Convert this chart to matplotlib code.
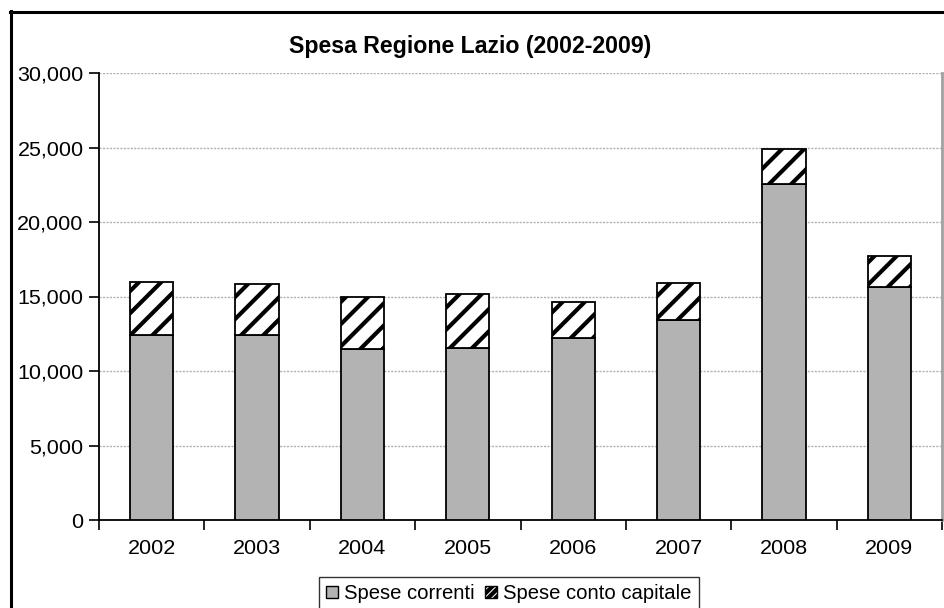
import matplotlib
matplotlib.use("Agg")
import matplotlib.pyplot as plt
from matplotlib.lines import Line2D
from matplotlib.patches import Patch
from matplotlib.ticker import FuncFormatter, MultipleLocator
import numpy as np

DPI = 400 / 3
K = 100 / DPI  # keep pixel sizes as designed at 100 dpi

plt.rcParams['font.family'] = ['Liberation Sans', 'DejaVu Sans']
plt.rcParams['hatch.linewidth'] = 3.0 * K

anni = ['2002', '2003', '2004', '2005', '2006', '2007', '2008', '2009']
spese_correnti = [12400, 12400, 11450, 11550, 12200, 13400, 22550, 15650]
spese_capitale = [3550, 3450, 3500, 3600, 2450, 2500, 2350, 2050]
titolo = 'Spesa Regione Lazio (2002-2009)'
etichette = ['Spese correnti', 'Spese conto capitale']

W, H = 944, 608
fig = plt.figure(figsize=(W / DPI, H / DPI), dpi=DPI)
ax = fig.add_axes([99 / W, 1 - 520 / H, 843 / W, 447 / H])

x = np.arange(len(anni))
bw = 0.41
ax.bar(x, spese_correnti, width=bw, color='#b3b3b3', edgecolor='black', linewidth=1.3 * K, zorder=3)
ax.bar(x, spese_capitale, width=bw, bottom=spese_correnti, color='white', edgecolor='black',
       hatch='//', linewidth=1.3 * K, zorder=3)

ax.set_xlim(-0.5, len(anni) - 0.5)
ax.set_ylim(0, 30000)
ax.yaxis.set_major_locator(MultipleLocator(5000))
ax.yaxis.set_major_formatter(FuncFormatter(lambda v, p: f'{int(v):,}'))
ax.grid(axis='y', color='#b0b0b0', linestyle=(0, (1.5, 1)), linewidth=1.0 * K, zorder=0)

ax.set_xticks(x)
ax.set_xticklabels(anni)
ax.set_xticks(np.arange(-0.5, len(anni)), minor=True)
ax.tick_params(axis='x', which='major', length=0, pad=14 * K, labelsize=15.5 * K)
ax.tick_params(axis='x', which='minor', length=7 * K, width=1.2 * K, direction='out', color='black')
ax.tick_params(axis='y', which='major', length=7 * K, width=1.2 * K, direction='out', pad=4 * K,
               labelsize=15.5 * K)

ax.spines['top'].set_visible(False)
ax.spines['right'].set_color('#a0a0a0')
ax.spines['right'].set_linewidth(2 * K)
ax.spines['left'].set_linewidth(1.3 * K)
ax.spines['bottom'].set_linewidth(1.3 * K)

fig.text(470.5 / W, 1 - 46 / H, titolo, ha='center', va='center', fontsize=16.7 * K, fontweight='bold')

# outer chart frame
fig.add_artist(Line2D([10.5 / W, 10.5 / W], [0, 1 - 11 / H], color='black', linewidth=2.2 * K,
                      transform=fig.transFigure))
fig.add_artist(Line2D([10 / W, 1], [1 - 12 / H, 1 - 12 / H], color='black', linewidth=2.2 * K,
                      transform=fig.transFigure))

handles = [Patch(facecolor='#b3b3b3', edgecolor='black', linewidth=1 * K),
           Patch(facecolor='white', edgecolor='black', hatch='//////', linewidth=1 * K)]
leg = fig.legend(handles, etichette, loc='upper center', bbox_to_anchor=(509 / W, 1 - 577 / H),
                 ncol=2, frameon=True, fancybox=False, fontsize=14.6 * K, handlelength=0.6,
                 handleheight=0.6, handletextpad=0.3, columnspacing=0.5, borderpad=0.35,
                 borderaxespad=0)
leg.get_frame().set_edgecolor('black')
leg.get_frame().set_linewidth(1.0 * K)

fig.savefig('out.png', dpi=DPI)
